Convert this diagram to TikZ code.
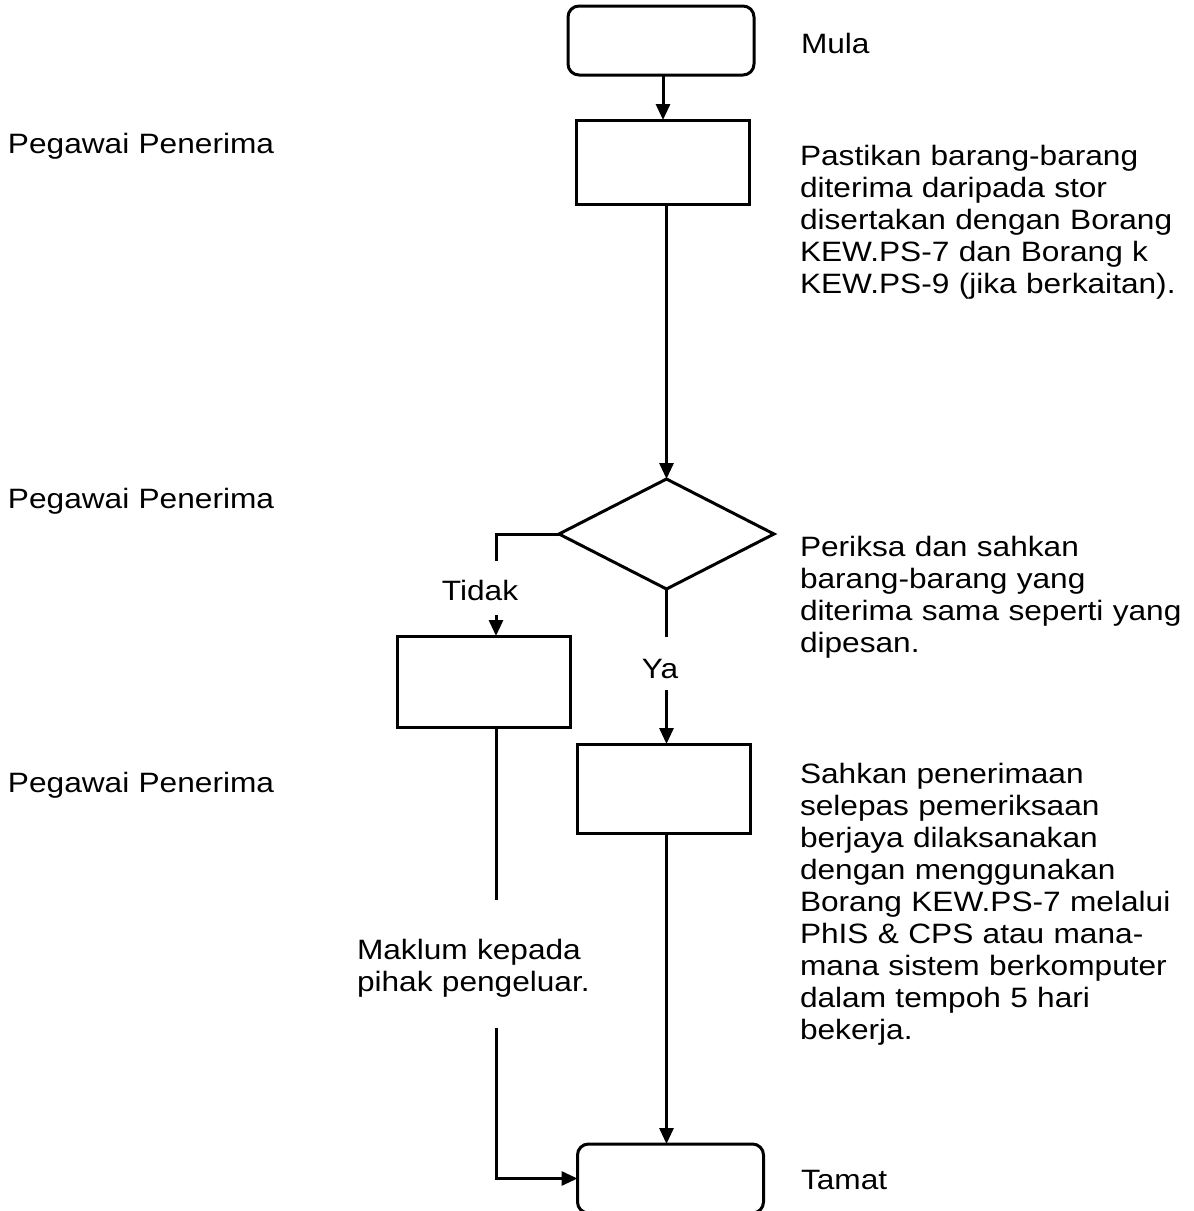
\documentclass[tikz,border=0pt]{standalone}
\usepackage{fontspec}
\setmainfont{Liberation Sans}[FakeStretch=1.13]
\usetikzlibrary{arrows.meta,shapes.geometric,calc}

\tikzset{
  flow/.style={draw, line width=3pt, inner sep=0pt, outer sep=0pt},
  terminal/.style={flow, rectangle, rounded corners=11pt, minimum width=186pt, minimum height=69pt},
  process/.style={flow, rectangle, minimum width=173pt, minimum height=89pt},
  decision/.style={flow, diamond, minimum width=215pt, minimum height=110pt},
  conn/.style={line width=3pt},
  arr/.style={conn, -{Triangle[length=16pt,width=14pt]}},
  lbl/.style={inner sep=0pt, outer sep=0pt, anchor=base west, align=left,
              text width=420pt, font=\fontsize{28}{32}\selectfont},
  tag/.style={inner sep=0pt, outer sep=0pt, anchor=base, font=\fontsize{28}{32}\selectfont}
}

\begin{document}
\begin{tikzpicture}[x=1pt, y=-1pt]
  \useasboundingbox (0,0) rectangle (1194,1211);

  % boxes of the flow
  \node[terminal] (start) at (661,40.5) {};
  \node[process, minimum height=84pt] (check) at (662.5,162) {};
  \node[decision] (dia) at (666.5,534) {};
  \node[process, minimum height=91pt] (reject) at (483.5,681.5) {};
  \node[process] (accept) at (664,788.5) {};
  \node[terminal] (finish) at (670.5,1178.5) {};

  % branch labels
  \node[tag] (tidak) at (480,600) {Tidak};
  \node[tag] (ya) at (660,678) {Ya};

  % connectors
  \coordinate (tkTop) at (496,561);
  \coordinate (tkBot) at (496,615);
  \coordinate (yaTop) at (666.5,637);
  \coordinate (yaBot) at (666.5,690);
  \coordinate (mkTop) at (496,900);
  \coordinate (mkBot) at (496,1028);

  \draw[arr] (start.south -| 663,0) -- (check.north -| 663,0);
  \draw[arr] (check.south -| dia.north) -- (dia.north);
  \draw[conn] (dia.west) -| (tkTop);
  \draw[arr] (tkBot) -- (tkBot |- reject.north);
  \draw[conn] (dia.south) -- (yaTop);
  \draw[arr] (yaBot) -- (yaBot |- accept.north);
  \draw[conn] (reject.south -| mkTop) -- (mkTop);
  \draw[arr] (mkBot) |- (finish.west);
  \draw[arr] (accept.south -| dia.south) -- (finish.north -| dia.south);

  % roles on the left
  \node[lbl] (role1) at (8,153) {Pegawai Penerima};
  \node[lbl] (role2) at (8,508) {Pegawai Penerima};
  \node[lbl] (role3) at (8,792) {Pegawai Penerima};

  % descriptions on the right
  \node[lbl] (tMula) at (801,53) {Mula};
  \node[lbl] (tPastikan) at (800,165) {Pastikan barang-barang\\diterima daripada stor\\disertakan dengan Borang\\KEW.PS-7 dan Borang k\\KEW.PS-9 (jika berkaitan).};
  \node[lbl] (tPeriksa) at (800,556) {Periksa dan sahkan\\barang-barang yang\\diterima sama seperti yang\\dipesan.};
  \node[lbl] (tSahkan) at (800,783) {Sahkan penerimaan\\selepas pemeriksaan\\berjaya dilaksanakan\\dengan menggunakan\\Borang KEW.PS-7 melalui\\PhIS \& CPS atau mana-\\mana sistem berkomputer\\dalam tempoh 5 hari\\bekerja.};
  \node[lbl] (tTamat) at (801,1189) {Tamat};
  \node[lbl] (tMaklum) at (357,959) {Maklum kepada\\pihak pengeluar.};
\end{tikzpicture}
\end{document}
